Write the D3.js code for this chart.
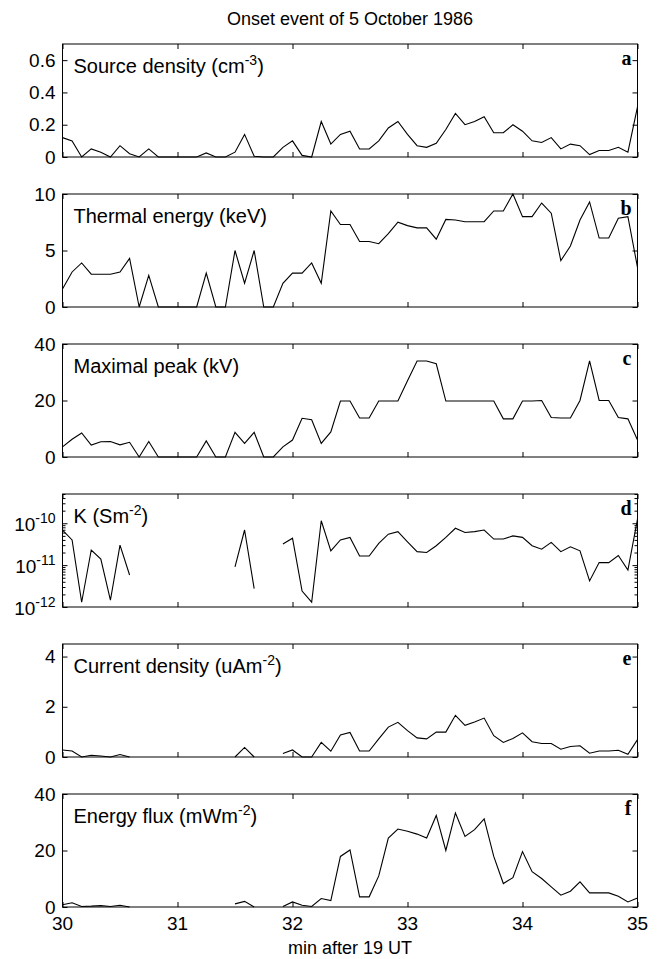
<!DOCTYPE html>
<html>
<head>
<meta charset="utf-8">
<script src="https://cdn.jsdelivr.net/npm/d3@7"></script>
<style>
  body { margin: 0; background: #fff; }
  text { font-family: "Liberation Sans", Arial, sans-serif; fill: #000; }
  .letter { font-family: "Liberation Serif", "Times New Roman", serif; font-weight: bold; }
</style>
</head>
<body>
<div id="chart"></div>
<script>
// sample times, seconds after 19:00 UT (5 s spacing)
var sampleSec = [1800,1805,1810,1815,1820,1825,1830,1835,1840,1845,1850,1855,1860,1865,1870,1875,1880,1885,1890,1895,
  1900,1905,1910,1915,1920,1925,1930,1935,1940,1945,1950,1955,1960,1965,1970,1975,1980,1985,1990,1995,
  2000,2005,2010,2015,2020,2025,2030,2035,2040,2045,2050,2055,2060,2065,2070,2075,2080,2085,2090,2095,2100];

var xTickMinutes = [30, 31, 32, 33, 34, 35];

// a: source density (cm^-3)
var sourceDensity = [0.12,0.10,0,0.05,0.03,0,0.07,0.02,0,0.05,
  0,0,0,0,0,0.025,0,0,0.03,0.14,
  0.005,0,0,0.06,0.10,0.01,0,0.22,0.08,0.14,
  0.16,0.05,0.05,0.10,0.18,0.22,0.14,0.07,0.06,0.085,
  0.17,0.27,0.20,0.22,0.25,0.15,0.15,0.20,0.16,0.10,
  0.09,0.12,0.05,0.08,0.07,0.015,0.04,0.04,0.06,0.03,0.31];

// b: thermal energy (keV)
var thermalEnergy = [1.6,3.1,3.9,2.9,2.9,2.9,3.1,4.3,0,2.8,
  0,0,0,0,0,3.0,0,0,5.0,2.1,
  5.0,0,0,2.1,3.0,3.0,3.9,2.1,8.5,7.3,
  7.3,5.8,5.8,5.6,6.5,7.5,7.2,7.0,7.0,6.0,
  7.75,7.7,7.55,7.55,7.55,8.5,8.5,10,8.0,8.0,
  9.2,8.3,4.1,5.4,7.7,9.3,6.1,6.1,7.85,8.0,3.5];

// c: maximal peak (kV)
var maximalPeak = [3.6,6.3,8.5,4.2,5.4,5.5,4.3,5.2,0,5.5,
  0,0,0,0,0,5.7,0,0,8.7,4.8,
  8.7,0,0,3.6,6.0,13.7,13.2,4.8,8.9,19.8,
  19.8,13.8,13.8,19.8,19.8,19.8,27,34,34,33,
  19.8,19.8,19.8,19.8,19.8,19.8,13.5,13.5,19.8,19.8,
  20,14,13.8,13.8,20,34,20,20,14,13.5,6];

// d: K (S m^-2), null = no value
var conductK = [6.9e-11,4e-11,1.3e-12,2.3e-11,1.4e-11,1.45e-12,3e-11,5.8e-12,null,null,
  null,null,null,null,null,null,null,null,9.1e-12,6.9e-11,
  2.75e-12,null,null,3.2e-11,4.4e-11,2.4e-12,1.3e-12,1.15e-10,2.2e-11,4e-11,
  4.6e-11,1.65e-11,1.65e-11,3.3e-11,5.5e-11,6.3e-11,3.6e-11,2.1e-11,2e-11,2.9e-11,
  4.6e-11,7.6e-11,6e-11,6.3e-11,6.9e-11,4.2e-11,4.2e-11,5e-11,4.6e-11,2.9e-11,
  2.4e-11,3.5e-11,2.1e-11,2.75e-11,2.2e-11,4.2e-12,1.15e-11,1.15e-11,1.7e-11,7.6e-12,1.26e-10];

// e: current density (uA m^-2)
var currentDensity = [0.28,0.24,0,0.07,0.04,0,0.1,0,null,null,
  null,null,null,null,null,null,null,null,0,0.38,
  0,null,null,0.14,0.28,0,0,0.58,0.23,0.88,
  0.98,0.24,0.24,0.72,1.19,1.38,1.05,0.76,0.72,0.99,
  0.99,1.66,1.26,1.39,1.55,0.85,0.58,0.74,0.96,0.61,
  0.54,0.54,0.31,0.42,0.45,0.15,0.24,0.24,0.27,0.11,0.69];

// f: energy flux (mW m^-2)
var energyFlux = [0.8,1.5,0.2,0.3,0.5,0.2,0.6,0,null,null,
  null,null,null,null,null,null,null,null,1.1,2.0,
  0,null,null,0.2,1.8,0.6,0.2,3.0,2.3,17.9,
  20.2,3.6,3.6,11,24.4,27.6,26.8,25.8,24.4,32.4,
  20,33.3,25,27.4,31.2,17.9,8.3,10.4,19.6,12.5,
  10.1,7.1,4.2,5.6,8.9,5,5,5,3.8,1.8,3.2];

var yTicksA = [0, 0.2, 0.4, 0.6];
var yTicksB = [0, 5, 10];
var yTicksC = [0, 20, 40];
var yTicksD = [1e-12, 1e-11, 1e-10];
var yTicksE = [0, 2, 4];
var yTicksF = [0, 20, 40];

var panels = [
  {letter: "a", label: "Source density (cm", sup: "-3", values: sourceDensity, domain: [0, 0.7], ticks: yTicksA, fmt: d => d === 0 ? "0" : d3.format(".1f")(d)},
  {letter: "b", label: "Thermal energy (keV)", values: thermalEnergy, domain: [0, 10], ticks: yTicksB},
  {letter: "c", label: "Maximal peak (kV)", values: maximalPeak, domain: [0, 40], ticks: yTicksC},
  {letter: "d", label: "K (Sm", sup: "-2", values: conductK, domain: [1e-12, 5e-10], ticks: yTicksD, log: true},
  {letter: "e", label: "Current density (uAm", sup: "-2", values: currentDensity, domain: [0, 4.5], ticks: yTicksE},
  {letter: "f", label: "Energy flux (mWm", sup: "-2", values: energyFlux, domain: [0, 40], ticks: yTicksF}
];

var svgWidth = 667, svgHeight = 959;
var left = 62.5, right = 637.5;
var firstTop = 44, step = 150, panelH = 113;

var svg = d3.select("#chart").append("svg")
  .attr("width", svgWidth)
  .attr("height", svgHeight);

var x = d3.scaleLinear().domain([1800, 2100]).range([left, right]);
var xTickSec = xTickMinutes.map(m => m * 60);

svg.append("text")
  .attr("x", (left + right) / 2)
  .attr("y", 25)
  .attr("text-anchor", "middle")
  .attr("font-size", "18px")
  .text("Onset event of 5 October 1986");

panels.forEach(function(p, k) {
  var top = firstTop + k * step;
  var bottom = top + panelH;
  var y = p.log
    ? d3.scaleLog().domain(p.domain).range([bottom, top])
    : d3.scaleLinear().domain(p.domain).range([bottom, top]);

  var g = svg.append("g");

  // x ticks, inward, top and bottom
  g.append("g").attr("transform", `translate(0,${bottom})`)
    .call(d3.axisBottom(x).tickValues(xTickSec).tickSize(-5).tickSizeOuter(0).tickFormat(""));
  g.append("g").attr("transform", `translate(0,${top})`)
    .call(d3.axisTop(x).tickValues(xTickSec).tickSize(-5).tickSizeOuter(0).tickFormat(""));

  // y ticks, inward, left and right
  var yl = d3.axisLeft(y).tickValues(p.ticks).tickSize(-5).tickSizeOuter(0).tickPadding(7);
  if (p.log) yl.tickFormat("");
  else yl.tickFormat(p.fmt || (d => d));
  g.append("g").attr("class", "yleft").attr("transform", `translate(${left},0)`).call(yl);
  g.append("g").attr("transform", `translate(${right},0)`)
    .call(d3.axisRight(y).tickValues(p.ticks).tickSize(-5).tickSizeOuter(0).tickFormat(""));

  if (p.log) {
    var minor = [];
    [1e-12, 1e-11, 1e-10].forEach(function(dec) {
      for (var m = 2; m <= 9; m++) if (dec * m <= p.domain[1] * 1.0001) minor.push(dec * m);
    });
    g.append("g").attr("transform", `translate(${left},0)`)
      .call(d3.axisLeft(y).tickValues(minor).tickSize(-3).tickSizeOuter(0).tickFormat(""));
    g.append("g").attr("transform", `translate(${right},0)`)
      .call(d3.axisRight(y).tickValues(minor).tickSize(-3).tickSizeOuter(0).tickFormat(""));
    p.ticks.forEach(function(t) {
      var lbl = g.append("text")
        .attr("x", left - 7)
        .attr("y", y(t) + 8)
        .attr("text-anchor", "end")
        .attr("font-size", "19px");
      lbl.append("tspan").text("10");
      lbl.append("tspan").attr("font-size", "14px").attr("dy", -8).text(Math.round(Math.log10(t)));
    });
  }

  g.selectAll(".tick line").attr("stroke", "#000");
  g.selectAll(".tick text").attr("font-size", "19px").attr("fill", "#000");
  g.selectAll(".domain").remove();

  // frame
  g.append("rect")
    .attr("x", left).attr("y", top)
    .attr("width", right - left).attr("height", panelH)
    .attr("fill", "none").attr("stroke", "#000").attr("stroke-width", 1);

  // series
  var line = d3.line()
    .defined(d => d.v !== null && (!p.log || d.v > 0))
    .x(d => x(d.s))
    .y(d => y(d.v));
  var pts = sampleSec.map((s, i) => ({s: s, v: p.values[i]}));
  g.append("path")
    .datum(pts)
    .attr("fill", "none")
    .attr("stroke", "#000")
    .attr("stroke-width", 1.1)
    .attr("stroke-linejoin", "miter")
    .attr("d", line);

  // panel label
  var t = g.append("text")
    .attr("x", left + 11)
    .attr("y", top + 29)
    .attr("font-size", "20px");
  t.append("tspan").text(p.label);
  if (p.sup) {
    t.append("tspan").attr("font-size", "14px").attr("dy", -8).text(p.sup);
    t.append("tspan").attr("dy", 8).text(")");
  }

  // panel letter
  g.append("text")
    .attr("class", "letter")
    .attr("x", right - 6)
    .attr("y", top + 21)
    .attr("text-anchor", "end")
    .attr("font-size", "20px")
    .text(p.letter);

  // x tick labels on the last panel only
  if (k === panels.length - 1) {
    g.selectAll(".xlab")
      .data(xTickMinutes)
      .enter()
      .append("text")
      .attr("x", d => x(d * 60))
      .attr("y", bottom + 23)
      .attr("text-anchor", "middle")
      .attr("font-size", "19px")
      .text(d => d);
    g.append("text")
      .attr("x", (left + right) / 2)
      .attr("y", bottom + 47)
      .attr("text-anchor", "middle")
      .attr("font-size", "18px")
      .text("min after 19 UT");
  }
});
</script>
</body>
</html>
